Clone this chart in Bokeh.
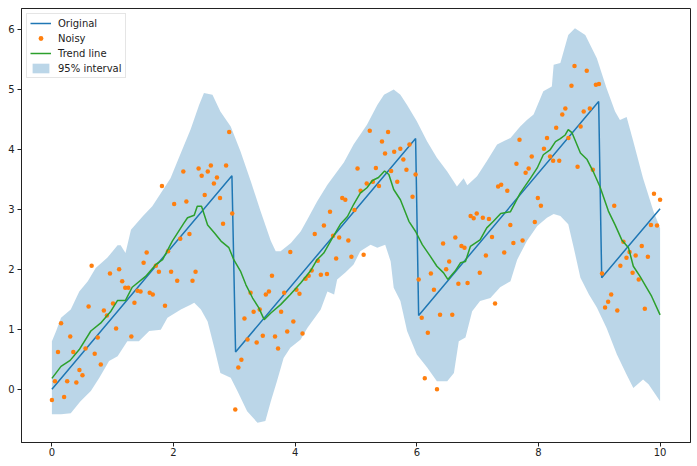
import numpy as np
from bokeh.plotting import figure
from bokeh.models import Legend, LegendItem, FixedTicker
from bokeh.embed import file_html
from bokeh.resources import INLINE

# ---- data ----
orig_x = [0.0, 2.96, 3.02, 5.98, 6.03, 8.99, 9.04, 10.0]
orig_y = [0.0, 3.56, 0.62, 4.18, 1.23, 4.80, 1.86, 3.01]

noisy_x = np.linspace(0, 10, 200)
noisy_y = [
    -0.18, 0.13, 0.62, 1.10, -0.13, 0.13, 0.88, 0.62, 0.11, 0.32,
    0.23, 0.68, 1.38, 2.06, 0.59, 0.86, 0.41, 1.31, 1.23, 1.93,
    1.43, 1.01, 2.00, 1.80, 1.69, 1.69, 0.88, 1.44, 1.64, 1.63,
    2.11, 2.28, 1.61, 1.58, 2.06, 1.96, 3.39, 1.39, 2.30, 1.96,
    3.09, 1.81, 2.51, 3.63, 3.13, 2.59, 1.81, 1.96, 3.68, 3.56,
    3.24, 3.63, 3.73, 3.43, 3.53, 3.19, 2.76, 3.73, 4.29, 2.93,
    -0.34, 0.36, 0.49, 1.18, 0.83, 1.61, 1.29, 0.78, 1.33, 0.89,
    1.58, 1.63, 1.89, 0.88, 0.68, 1.29, 1.61, 0.96, 2.29, 1.13,
    1.66, 1.59, 0.93, 1.84, 1.89, 1.98, 2.59, 2.14, 1.91, 2.73,
    1.92, 2.96, 2.56, 2.18, 2.53, 3.19, 3.16, 2.48, 2.21, 2.99,
    3.68, 3.31, 2.24, 3.43, 4.31, 3.46, 3.69, 3.39, 4.13, 3.93,
    4.29, 3.64, 3.96, 3.46, 4.01, 3.83, 3.66, 4.08, 3.21, 3.58,
    1.83, 1.19, 0.18, 0.94, 1.93, 1.66, 0.00, 1.24, 2.43, 2.00,
    2.13, 1.24, 2.53, 1.76, 2.39, 2.36, 1.77, 2.89, 2.85, 2.93,
    1.94, 2.86, 2.23, 2.84, 2.54, 1.43, 3.38, 3.41, 2.28, 3.31,
    2.74, 2.44, 3.76, 4.16, 2.48, 3.61, 3.68, 3.88, 2.79, 3.19,
    3.06, 4.01, 4.19, 3.88, 3.81, 4.36, 3.81, 4.58, 4.68, 4.19,
    5.06, 5.39, 3.71, 4.38, 4.63, 5.31, 4.68, 3.66, 5.08, 5.09,
    1.93, 1.36, 1.46, 1.58, 3.06, 1.31, 2.06, 2.46, 2.19, 2.29,
    1.94, 2.23, 1.83, 2.39, 1.34, 2.21, 2.74, 3.26, 2.73, 3.16,
]

trend_x = [0.00, 0.15, 0.30, 0.45, 0.64, 0.80, 0.97, 1.08, 1.21, 1.32,
           1.54, 1.71, 1.82, 1.98, 2.17, 2.23, 2.34, 2.39, 2.46, 2.56,
           2.67, 2.78, 2.91, 2.99, 3.10, 3.19, 3.30, 3.40, 3.49, 3.60,
           3.76, 3.92, 4.09, 4.25, 4.36, 4.47, 4.61, 4.75, 4.86, 4.96,
           5.07, 5.18, 5.27, 5.37, 5.47, 5.54, 5.62, 5.73, 5.87, 5.98,
           6.09, 6.22, 6.33, 6.44, 6.51, 6.63, 6.72, 6.80, 6.88, 7.04,
           7.15, 7.26, 7.38, 7.54, 7.70, 7.87, 7.98, 8.08, 8.19, 8.28,
           8.36, 8.44, 8.49, 8.55, 8.69, 8.80, 8.90, 9.01, 9.15, 9.26,
           9.37, 9.48, 9.56, 9.67, 9.78, 9.86, 10.0]
trend_y = [0.18, 0.38, 0.48, 0.66, 0.97, 1.10, 1.30, 1.48, 1.48, 1.70,
           1.88, 2.08, 2.16, 2.47, 2.77, 2.86, 2.90, 3.05, 3.05, 2.74,
           2.61, 2.47, 2.36, 2.16, 1.97, 1.74, 1.52, 1.36, 1.16, 1.27,
           1.41, 1.58, 1.77, 1.97, 2.16, 2.27, 2.52, 2.76, 2.88, 3.08,
           3.27, 3.36, 3.48, 3.53, 3.64, 3.58, 3.33, 3.16, 2.80, 2.63,
           2.41, 2.22, 2.05, 1.94, 1.83, 1.97, 2.11, 2.13, 2.38, 2.49,
           2.69, 2.80, 2.93, 2.96, 3.27, 3.52, 3.69, 3.91, 3.99, 4.13,
           4.18, 4.24, 4.33, 4.28, 3.94, 3.83, 3.63, 3.38, 2.97, 2.74,
           2.49, 2.36, 2.05, 1.88, 1.69, 1.55, 1.24]

band_upper_x = [0.00, 0.07, 0.15, 0.31, 0.45, 0.59, 0.72, 0.91, 1.08, 1.13,
                1.21, 1.30, 1.49, 1.65, 1.79, 1.95, 2.12, 2.28, 2.42, 2.50,
                2.64, 2.77, 2.94, 3.10, 3.27, 3.43, 3.60, 3.68, 3.76, 3.93,
                4.09, 4.20, 4.36, 4.53, 4.69, 4.80, 4.96, 5.18, 5.35, 5.46,
                5.62, 5.73, 5.84, 6.00, 6.17, 6.33, 6.50, 6.66, 6.77, 6.83,
                6.99, 7.15, 7.32, 7.45, 7.54, 7.70, 7.81, 7.92, 8.08, 8.22,
                8.25, 8.36, 8.49, 8.60, 8.77, 8.96, 9.12, 9.26, 9.34, 9.45,
                9.56, 9.72, 9.89, 10.0]
band_upper = [0.80, 0.97, 1.19, 1.33, 1.63, 1.80, 2.02, 2.19, 2.40, 2.40,
              2.27, 2.66, 2.88, 3.05, 3.27, 3.52, 3.94, 4.33, 4.74, 4.94,
              4.91, 4.63, 4.38, 3.97, 3.47, 2.97, 2.47, 2.30, 2.30, 2.44,
              2.63, 2.83, 3.13, 3.41, 3.63, 3.78, 4.08, 4.41, 4.74, 4.91,
              5.00, 4.91, 4.74, 4.47, 4.13, 3.86, 3.63, 3.38, 3.52, 3.40,
              3.55, 3.80, 4.08, 4.15, 4.19, 4.38, 4.49, 4.58, 4.97, 5.05,
              5.41, 5.44, 5.91, 6.02, 5.91, 5.52, 5.02, 4.63, 4.49, 4.54,
              4.13, 3.52, 2.97, 2.69]

band_lower_x = [0.00, 0.15, 0.31, 0.47, 0.64, 0.78, 0.94, 1.08, 1.24, 1.43,
                1.60, 1.79, 1.90, 2.12, 2.28, 2.34, 2.45, 2.56, 2.67, 2.77,
                2.94, 3.05, 3.21, 3.38, 3.51, 3.60, 3.70, 3.81, 3.92, 4.09,
                4.20, 4.42, 4.53, 4.64, 4.69, 4.83, 4.96, 5.07, 5.24, 5.35,
                5.48, 5.57, 5.62, 5.73, 5.84, 6.00, 6.17, 6.33, 6.50, 6.61,
                6.69, 6.80, 6.91, 7.04, 7.21, 7.37, 7.54, 7.65, 7.81, 7.98,
                8.14, 8.25, 8.36, 8.49, 8.58, 8.69, 8.83, 8.96, 9.12, 9.29,
                9.45, 9.56, 9.72, 9.81, 10.0]
band_lower = [-0.42, -0.42, -0.40, -0.20, -0.03, 0.19, 0.47, 0.55, 0.80, 0.80,
              0.97, 0.99, 1.19, 1.33, 1.41, 1.44, 1.33, 1.13, 0.69, 0.27,
              0.19, -0.03, -0.37, -0.56, -0.53, -0.20, 0.13, 0.52, 0.69, 0.83,
              1.02, 1.33, 1.63, 1.58, 1.83, 1.95, 2.08, 2.30, 2.41, 2.36,
              2.41, 2.13, 1.69, 1.47, 0.97, 0.58, 0.36, 0.13, 0.13, 0.27,
              0.80, 0.86, 1.30, 1.47, 1.52, 1.70, 1.80, 2.16, 2.47, 2.72,
              2.86, 2.92, 2.89, 2.75, 2.36, 1.86, 1.58, 1.36, 1.02, 0.58,
              0.24, 0.02, 0.16, 0.08, -0.20]

x_ticks = [0, 2, 4, 6, 8, 10]
y_ticks = [0, 1, 2, 3, 4, 5, 6]

# ---- figure ----
p = figure(width=697, height=466, x_range=(-0.5, 10.5), y_range=(-0.89, 6.35),
           output_backend="svg", toolbar_location=None,
           min_border_left=21, min_border_right=7, min_border_top=8, min_border_bottom=24)
p.background_fill_color = "white"
p.border_fill_color = "white"
p.xgrid.visible = False
p.ygrid.visible = False
p.outline_line_color = "#222222"
p.outline_line_width = 1

for ax in (p.xaxis[0], p.yaxis[0]):
    ax.axis_line_color = "#222222"
    ax.major_tick_line_color = "#222222"
    ax.major_tick_in = 0
    ax.major_tick_out = 4
    ax.minor_tick_line_color = None
    ax.major_label_text_font = "DejaVu Sans"
    ax.major_label_text_font_size = "10px"
    ax.major_label_text_color = "#222222"
p.xaxis[0].major_label_standoff = 1
p.yaxis[0].major_label_standoff = 3
p.xaxis.ticker = FixedTicker(ticks=x_ticks)
p.yaxis.ticker = FixedTicker(ticks=y_ticks)

band = p.patch(band_upper_x + band_lower_x[::-1], band_upper + band_lower[::-1],
               fill_color="#1f77b4", fill_alpha=0.3, line_color=None)
orig = p.line(orig_x, orig_y, line_color="#1f77b4", line_width=1.5)
noisy = p.scatter(noisy_x, noisy_y, size=4.5, fill_color="#ff7f0e", line_color=None)
trend = p.line(trend_x, trend_y, line_color="#2ca02c", line_width=1.5)

legend = Legend(items=[
    LegendItem(label="Original", renderers=[orig]),
    LegendItem(label="Noisy", renderers=[noisy]),
    LegendItem(label="Trend line", renderers=[trend]),
    LegendItem(label="95% interval", renderers=[band]),
], location="top_left")
legend.label_text_font = "DejaVu Sans"
legend.label_text_font_size = "10px"
legend.label_text_color = "#222222"
legend.glyph_width = 21
legend.glyph_height = 12
legend.label_height = 12
legend.spacing = 3
legend.padding = 3
legend.margin = 5
legend.label_standoff = 7
legend.border_line_color = "#cccccc"
legend.border_line_width = 1
legend.background_fill_alpha = 0.8
p.add_layout(legend, "center")

open("out.html", "w").write(file_html(p, INLINE))
